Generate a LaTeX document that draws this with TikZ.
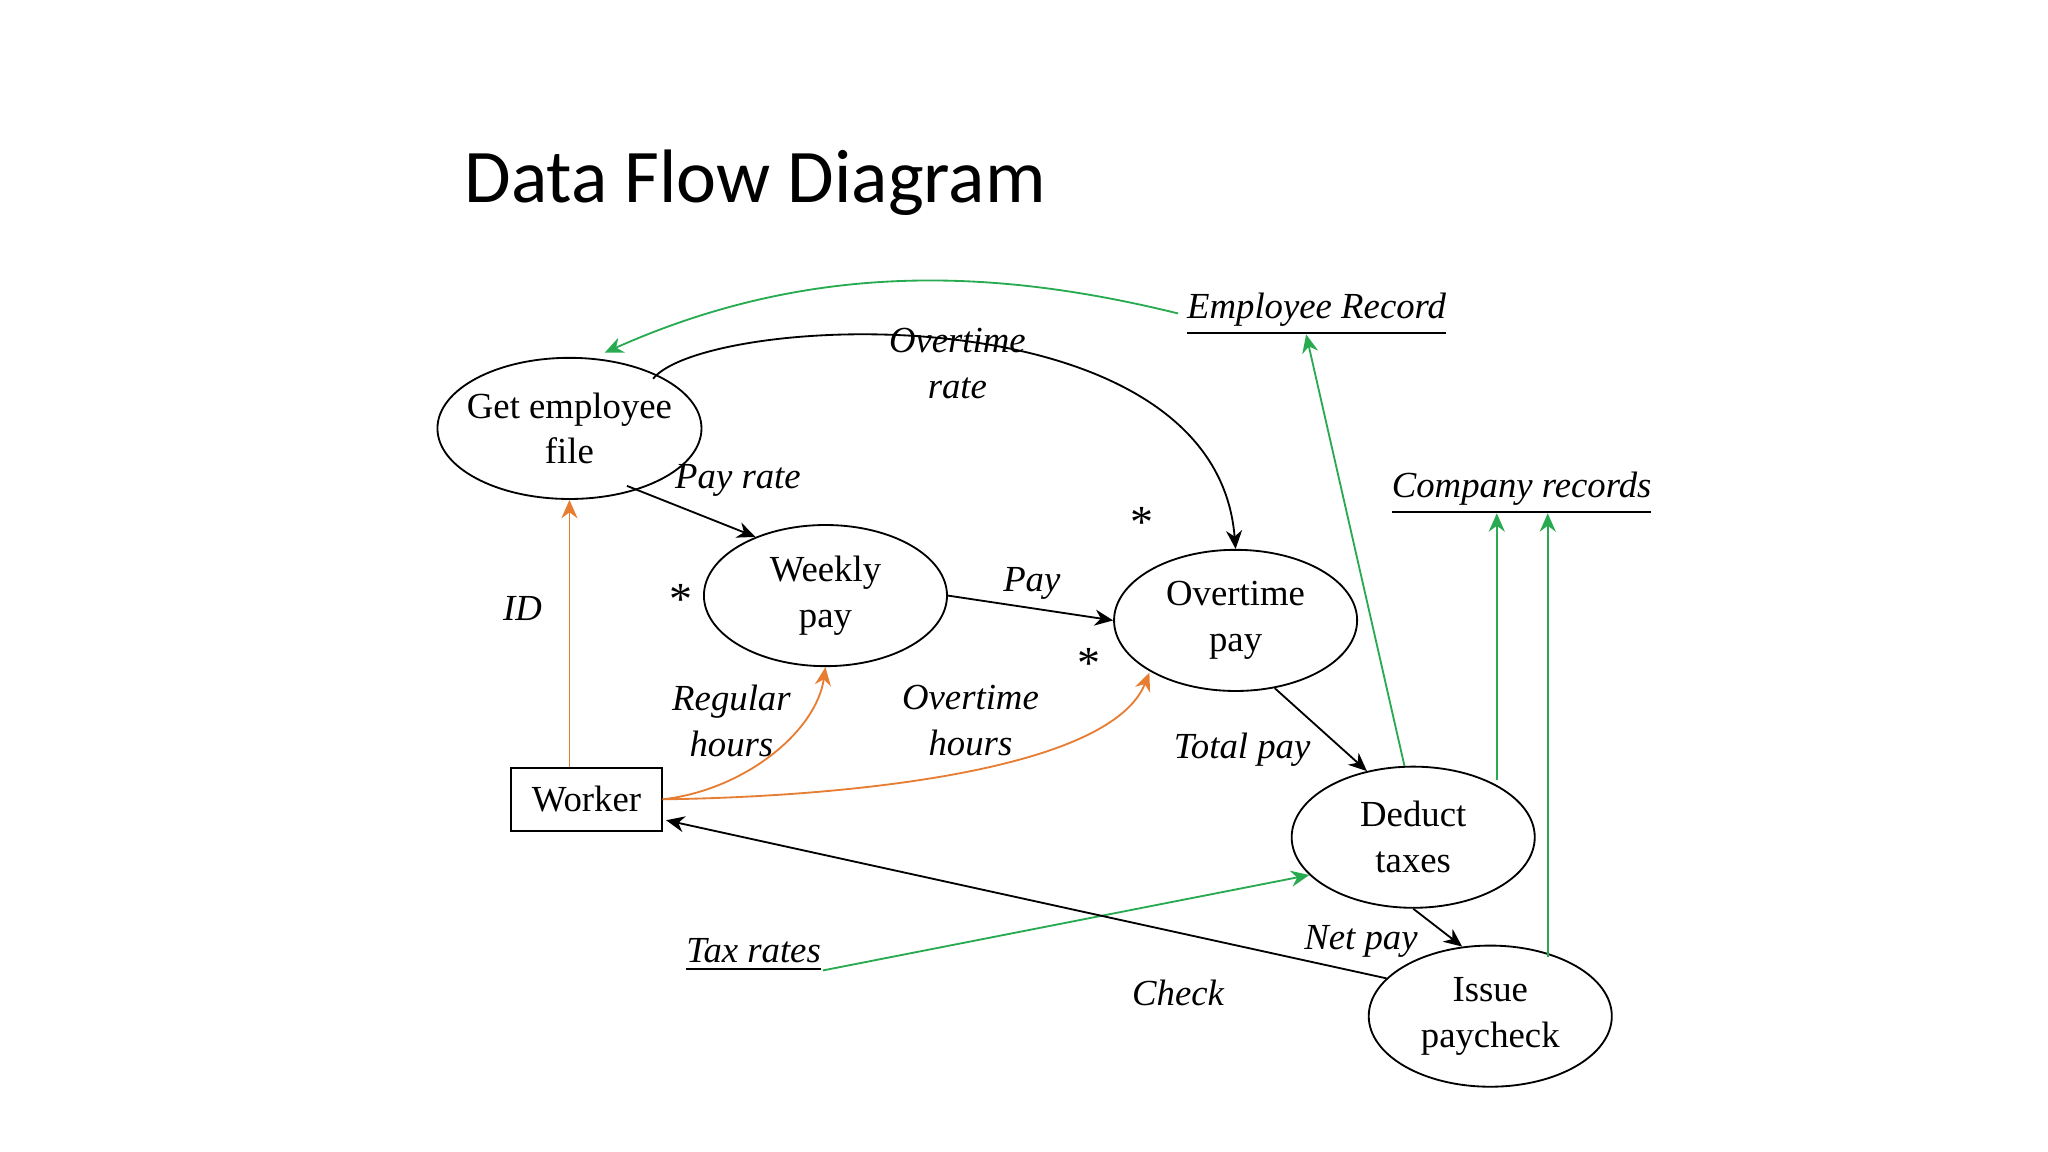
\documentclass[tikz,border=0pt]{standalone}
\usepackage{fontspec}
\setmainfont{Liberation Serif}
\newfontfamily\titlefont{Carlito}
\usetikzlibrary{arrows.meta,shapes.geometric}
\definecolor{dfgreen}{RGB}{40,170,80}
\definecolor{dforange}{RGB}{230,125,50}
\begin{document}
\begin{tikzpicture}[x=0.01cm,y=-0.01cm,
  proc/.style={ellipse,draw,minimum width=1.86cm,minimum height=1.08cm,inner sep=-2pt,align=center,font=\fontsize{8}{10}\selectfont},
  lbl/.style={font=\fontsize{8}{10}\selectfont\itshape,align=center},
  store/.style={font=\fontsize{8}{10}\selectfont\itshape,inner sep=0pt},
  flow/.style={-{Stealth[length=4pt,width=3.5pt]},thin},
  gflow/.style={flow,dfgreen},
  oflow/.style={flow,dforange}]
\useasboundingbox (0,0) rectangle (1568,882);
\node[font=\titlefont\fontsize{16.5}{20}\selectfont,anchor=west,inner sep=0pt] at (355,140) {Data Flow Diagram};
\node[proc] (gef) at (436,328) {Get employee\\file};
\node[proc] (wp) at (632,456) {Weekly\\pay};
\node[proc] (op) at (946,475) {Overtime\\pay};
\node[proc] (dt) at (1082,641) {Deduct\\taxes};
\node[proc] (ip) at (1141,778) {Issue\\paycheck};
\node[draw,minimum width=1.15cm,minimum height=0.48cm,font=\fontsize{8}{10}\selectfont] (w) at (449,612) {Worker};
\node[store] (er) at (1008,241) {\underline{Employee Record}};
\node[store] (cr) at (1165,378) {\underline{Company records}};
\node[store] (tr) at (577,731) {\underline{Tax rates}};
\coordinate (erw) at (902,240);
\coordinate (ers) at (1000,256);
\coordinate (cr1) at (1146,393);
\coordinate (cr2) at (1185,393);
\coordinate (tre) at (630,743);
\coordinate (dtn) at (1146,597);
\coordinate (ipn) at (1185,733);
\coordinate (gefa) at (500,290);
\coordinate (gefb) at (480,372);
\coordinate (wc) at (510,628);
% flows
\draw[gflow] (erw) .. controls (760,205) and (620,200) .. (463,270);
\draw[flow] (gefa) .. controls (540,240) and (930,220) .. (op.north);
\draw[flow] (gefb) -- (wp.140);
\draw[flow] (wp.east) -- (op.west);
\draw[oflow] (w.north -| gef.south) -- (gef.south);
\draw[oflow] (w.east) .. controls (570,605) and (625,560) .. (wp.south);
\draw[oflow] (w.east) .. controls (650,610) and (850,590) .. (880,515);
\draw[flow] (op.-60) -- (dt.125);
\draw[gflow] (dt.97) -- (ers);
\draw[gflow] (dtn) -- (cr1);
\draw[gflow] (ipn) -- (cr2);
\draw[gflow] (tre) -- (dt.200);
\draw[flow] (dt.-90) -- (ip.112);
\draw[flow] (ip.160) -- (wc);
% labels
\node[lbl] at (733,278) {Overtime\\rate};
\node[lbl] at (565,368) {Pay rate};
\node[lbl] at (790,447) {Pay};
\node[lbl] at (400,466) {ID};
\node[lbl] at (560,552) {Regular\\hours};
\node[lbl] at (743,552) {Overtime\\hours};
\node[lbl] at (951,574) {Total pay};
\node[lbl] at (1042,721) {Net pay};
\node[lbl] at (902,760) {Check};
\node[font=\normalsize] at (874,400) {*};
\node[font=\normalsize] at (521,459) {*};
\node[font=\normalsize] at (834,508) {*};
\end{tikzpicture}
\end{document}
